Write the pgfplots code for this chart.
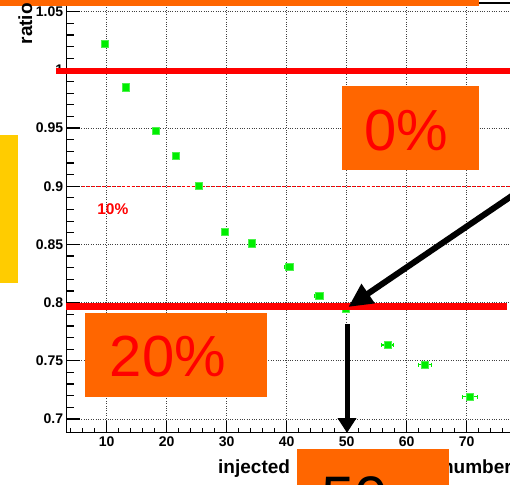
\documentclass[border=0pt]{standalone}
\usepackage{fontspec}
\setmainfont{Liberation Sans}
\usepackage{pgfplots}
\pgfplotsset{compat=1.18}
\usepackage{pgfplotstable}
\usetikzlibrary{arrows.meta}
\definecolor{rootorange}{HTML}{FF6600}
\definecolor{rootyellow}{HTML}{FFCC00}
\definecolor{rootgreen}{HTML}{00EE00}
\pgfplotstableread{
x y ex
9.6 1.0225 0.3
13.2 0.985 0.3
18.2 0.948 0.3
21.5 0.926 0.3
25.3 0.9005 0.4
29.7 0.861 0.4
34.2 0.851 0.5
40.4 0.831 0.7
45.4 0.8057 0.8
49.8 0.795 0.9
56.8 0.7636 1.0
63.05 0.7467 1.1
70.55 0.719 1.25
}\ratiodata
\begin{document}
\begin{tikzpicture}
\begin{axis}[
  at={(66.7pt,-432.7pt)}, anchor=south west,
  scale only axis, width=460pt, height=429.8pt,
  xmin=3.33, xmax=80, ymin=0.6882, ymax=1.0575,
  xtick={10,20,30,40,50,60,70},
  ytick={0.7,0.75,0.8,0.85,0.9,0.95,1,1.05},
  yticklabels={0.7,0.75,0.8,0.85,0.9,0.95,1,1.05},
  xtick pos=bottom, ytick pos=left, tick align=inside,
  major tick length=12pt,
  major tick style={black, line width=1.2pt, solid},
  axis line style={black, line width=1.5pt},
  xmajorgrids, ymajorgrids,
  major grid style={black!75, line width=0.7pt, dash pattern=on 0.8pt off 1.6pt},
  /pgf/number format/assume math mode=true,
  ticklabel style={font=\bfseries\fontsize{14}{16}\selectfont},
  clip=false,
]
\draw[red, line width=0.9pt, dash pattern=on 3pt off 2pt] (axis cs:3.33,0.9) -- (axis cs:80,0.9);
\addplot[only marks, mark=square*, mark size=3.6pt,
  mark options={fill=rootgreen, draw=rootgreen!70!white},
  error bars/.cd, x dir=both, x explicit,
  error bar style={rootgreen, line width=1.2pt},
  error mark options={rotate=90, mark size=2pt, rootgreen, line width=1pt}]
  table[x=x, y=y, x error=ex] {\ratiodata};
\end{axis}
\begin{scope}[x=1pt,y=-1pt]
% axis ticks (ROOT style, inside)
\foreach \i in {0,...,35}{
  \pgfmathsetmacro{\yy}{419-11.637*\i}
  \pgfmathsetmacro{\tl}{mod(\i,5)==0 ? 13 : 7}
  \draw[black, line width=1.2pt] (66.7,\yy) -- ++(\tl,0);
}
\foreach \v in {4,6,...,78}{
  \pgfmathsetmacro{\xx}{106.7+(\v-10)*6}
  \pgfmathsetmacro{\tl}{mod(\v,10)==0 ? 11 : 5}
  \draw[black, line width=1.2pt] (\xx,432.7) -- ++(0,-\tl);
}
\fill[rootorange] (-5,-5) rectangle (479,5.7);
\fill[rootyellow] (-5,135) rectangle (18,283);
\draw[red, line width=6.5pt] (56,71) -- (520,71);
\draw[red, line width=6.7pt] (66,306.7) -- (507,306.7);
\node[red, font=\bfseries\fontsize{15.5}{17}\selectfont] at (112.8,209.5) {10\%};
\fill[rootorange] (341.7,86) rectangle (479,170);
\node[red, font=\fontsize{58}{60}\selectfont] at (406.5,130.5) {0\%};
\fill[rootorange] (85,312.7) rectangle (266.7,396.7);
\node[red, font=\fontsize{58}{60}\selectfont] at (168,357) {20\%};
\draw[black, line width=6pt, -{Triangle[length=24pt,width=22pt]}] (530,183.5) -- (348.3,307);
\draw[black, line width=5pt, -{Triangle[length=15pt,width=18pt]}] (347,324) -- (347,433);
\node[anchor=base west, font=\bfseries\fontsize{19}{22}\selectfont, inner sep=0pt] at (218,473.3) {injected};
\node[anchor=base east, font=\bfseries\fontsize{19}{22}\selectfont, inner sep=0pt] at (512,473.3) {number};
\node[rotate=90, anchor=base east, font=\bfseries\fontsize{19}{22}\selectfont, inner sep=0pt] at (32,3) {ratio};
\fill[rootorange] (297,449) rectangle (449,500);
\node[black, anchor=base, font=\fontsize{60}{62}\selectfont, inner sep=0pt] at (355,518) {50};
\pgfresetboundingbox
\useasboundingbox (0,0) rectangle (510,484);
\end{scope}
\end{tikzpicture}
\end{document}
